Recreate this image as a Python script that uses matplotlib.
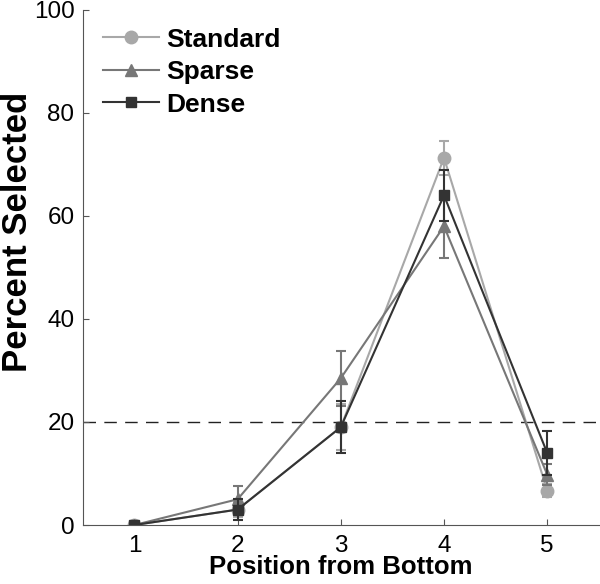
import matplotlib

matplotlib.use("Agg")
import matplotlib.pyplot as plt

plt.rcParams["font.family"] = ["Liberation Sans", "DejaVu Sans"]

# Data
positions = [1, 2, 3, 4, 5]
standard = [0.0, 3.0, 19.0, 71.3, 6.7]
standard_err = [0.3, 1.5, 4.5, 3.3, 1.3]
sparse = [0.0, 5.0, 28.5, 58.0, 9.8]
sparse_err = [0.3, 2.5, 5.3, 6.2, 2.0]
dense = [0.0, 3.0, 19.0, 64.0, 14.0]
dense_err = [0.3, 2.0, 5.0, 5.0, 4.3]
chance = 20

fig = plt.figure(figsize=(6.0, 5.84), dpi=100)
ax = fig.add_axes([0.138, 0.101, 0.860, 0.882])

series = [
    ("Standard", standard, standard_err, "#a8a8a8", "o", 9),
    ("Sparse", sparse, sparse_err, "#777777", "^", 9),
    ("Dense", dense, dense_err, "#333333", "s", 7),
]
handles = []
for name, vals, errs, color, marker, ms in series:
    ax.errorbar(
        positions, vals, yerr=errs, color=color, fmt="none",
        elinewidth=1.5, capsize=3.5, capthick=1.5,
    )
    (h,) = ax.plot(
        positions, vals, color=color, marker=marker, markersize=ms,
        linewidth=1.5, label=name,
    )
    handles.append(h)

ax.axhline(chance, color="#222222", linestyle=(0, (9, 6)), linewidth=1.0, zorder=0)

ax.set_xlim(0.5, 5.5)
ax.set_ylim(0, 100)
ax.set_xticks(positions)
ax.set_yticks([0, 20, 40, 60, 80, 100])
ax.tick_params(labelsize=17.5, direction="in", length=4, color="#555555")
ax.tick_params(axis="y", pad=6)
ax.tick_params(axis="x", pad=7)
ax.spines["top"].set_visible(False)
ax.spines["right"].set_visible(False)
for side in ("left", "bottom"):
    ax.spines[side].set_color("#555555")

ax.set_xlabel("Position from Bottom", fontsize=18.5, fontweight="bold", labelpad=-1)
ax.set_ylabel("Percent Selected", fontsize=25, fontweight="bold")
ax.yaxis.set_label_coords(-0.094, 0.569)

leg = ax.legend(
    handles=handles, loc="upper left", frameon=False, fontsize=19,
    handlelength=2.15, handletextpad=0.27, borderaxespad=0, labelspacing=0.32,
    bbox_to_anchor=(0.018, 0.986),
)
for t in leg.get_texts():
    t.set_fontweight("bold")

plt.savefig("out.png", dpi=100)
